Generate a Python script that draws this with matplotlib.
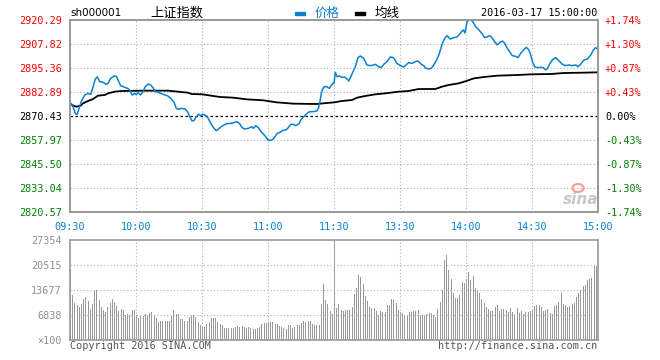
import matplotlib
matplotlib.use('Agg')
import matplotlib.pyplot as plt
import matplotlib.patches as mpatches
import numpy as np

# ---------------- data ----------------
x_ticks = [0, 30, 60, 90, 120, 150, 180, 210, 240]
x_labels = ['09:30', '10:00', '10:30', '11:00', '11:30', '13:30', '14:00', '14:30', '15:00']

y_ticks = [2820.57, 2833.04, 2845.50, 2857.97, 2870.43, 2882.89, 2895.36, 2907.82, 2920.29]
pct_labels = ['-1.74%', '-1.30%', '-0.87%', '-0.43%', '0.00%', '+0.43%', '+0.87%', '+1.30%', '+1.74%']
prev_close = 2870.43

price_t = [0, 1.4, 2.4, 3.2, 3.9, 5.2, 6.7, 8.2, 9.4, 10.5, 11.5, 12.4, 13.5, 15, 16.5, 17.3, 18.5, 20, 21.1, 21.8,
           23, 24.1, 26.1, 27.1, 28.2, 29.1, 30.2, 30.9, 32.1, 33.2, 34.2, 35.5, 36.7, 37.7, 38.8, 40, 41.2, 42.3, 44.5, 46.1,
           47.3, 48.3, 49.4, 50.6, 52.4, 53.6, 54.4, 55.5, 56.4, 57.4, 58.5, 59.4,
           60.3, 61.4, 62.4, 63.6, 64.9, 66.4, 67.4, 68.5, 70, 71.2, 73.5, 75.8, 77, 78, 79.1, 81.1, 82.6, 83.3, 84.5, 85.6,
           87.1, 88.6, 89.9, 90.9, 92.1, 93.2, 94.2, 95.5, 97, 98.2, 99.2, 100.3, 101.5, 102.7, 104.2, 104.9, 105.8, 107.3, 108.3, 109.4,
           110.6, 112.1, 112.9, 113.6, 114.4, 115.5, 116.7, 117.9, 118.9, 119.7, 120,
           120.6, 121.4, 122.4, 123.6, 124.9, 125.9, 126.7, 127.4, 128.5, 129.7, 130.9, 132, 133.5, 135, 136.5, 138, 138.8, 140.3, 141.5, 142.6,
           144.1, 145.6, 147.1, 148.6, 150.2, 151.7, 152.7, 153.9, 155.5, 157, 158.2, 159.7, 160.8, 161.8, 163.3, 164.5, 165.3, 166.8, 167.9, 169.1,
           170.3, 171.4, 172.9, 174.4, 175.9, 177.4, 178.2, 178.9, 179.5, 180.2, 180.6, 181.8, 182.9,
           184.4, 185.9, 187.4, 188.5, 189.7, 190.9, 192, 193, 194.2, 195.5, 196.5, 197.6, 198.8, 200, 201.1, 202.6, 203.6, 204.9, 206.4, 207.4,
           208.6, 209.4, 210.2, 211.2, 212.4, 213.9, 215.2, 216.2, 217, 218.2, 219.2, 220.8, 222.3, 223.8, 225.3, 226.8, 228.3, 229.9, 230.9, 232.1,
           233.6, 235.2, 236.7, 237.9, 238.9, 240]
price_v = [2877.53, 2875.28, 2871.82, 2871.30, 2873.55, 2878.22, 2881.34, 2882.20, 2881.68, 2885.67, 2889.65, 2890.69, 2888.26, 2887.92, 2886.88, 2887.40, 2890.00, 2891.21, 2891.03, 2889.13,
           2886.18, 2885.67, 2884.80, 2883.93, 2881.34, 2882.03, 2881.68, 2882.55, 2881.34, 2883.07, 2885.67, 2887.05, 2886.53, 2885.15, 2883.07, 2882.72, 2882.20, 2881.68, 2880.82, 2879.26,
           2877.53, 2874.41, 2873.89, 2874.41, 2874.07, 2872.33, 2870.08, 2867.83, 2868.18, 2870.08, 2871.30, 2870.60,
           2871.30, 2870.95, 2870.08, 2867.49, 2864.89, 2862.81, 2863.50, 2864.72, 2865.76, 2866.45, 2866.62, 2867.49, 2866.62, 2864.89, 2863.68, 2864.02, 2864.89, 2864.02, 2865.41, 2864.37,
           2861.95, 2860.22, 2858.14, 2857.79, 2858.14, 2859.70, 2861.43, 2861.95, 2863.16, 2863.16, 2864.37, 2866.10, 2866.10, 2865.41, 2866.62, 2868.35, 2869.56, 2871.30, 2872.33, 2872.68,
           2872.68, 2873.03, 2874.41, 2877.87, 2883.07, 2885.67, 2885.67, 2884.80, 2886.53, 2887.57, 2887.40,
           2893.11, 2890.86, 2891.21, 2890.51, 2890.69, 2889.65, 2888.61, 2890.34, 2893.11, 2896.05, 2900.73, 2901.59, 2900.38, 2896.92, 2896.57, 2896.92, 2897.26, 2896.05, 2895.53, 2897.26,
           2898.65, 2901.07, 2900.73, 2897.78, 2896.57, 2895.88, 2896.92, 2898.13, 2897.78, 2898.65, 2899.00, 2897.26, 2896.57, 2895.19, 2894.84, 2895.53, 2896.92, 2899.86, 2902.98, 2907.65,
           2910.77, 2912.15, 2910.42, 2911.11, 2911.46, 2913.36, 2914.58, 2915.10, 2913.50, 2917.50, 2919.77, 2920.29, 2919.77,
           2916.83, 2915.10, 2913.02, 2911.11, 2911.63, 2912.15, 2910.77, 2909.04, 2907.30, 2908.69, 2909.38, 2908.17, 2905.57, 2903.50, 2901.76, 2901.42, 2900.73, 2902.98, 2905.06, 2906.09,
           2904.71, 2902.11, 2898.65, 2896.05, 2895.53, 2895.71, 2895.53, 2894.32, 2895.19, 2897.78, 2899.51, 2900.73, 2899.00, 2897.26, 2896.57, 2896.92, 2896.57, 2896.92, 2896.05, 2897.26,
           2899.51, 2900.03, 2902.11, 2904.71, 2905.92, 2905.06]

avg_t = [0, 1.4, 2.9, 4.9, 5.9, 8.2, 10.5, 12.7, 15.8, 17.3, 20.3, 23.3, 33.9, 44.5, 49.1, 53.6, 55.2, 60.2, 62.1, 68.2,
         74.2, 80.3, 87.9, 93.9, 101.5, 112.1, 116.7, 120.2, 123.6, 128.2, 130.5, 134.2, 138.8, 143.3, 149.4, 153.9, 158.5, 166.1, 169.1, 172.1,
         176.7, 180.2, 181.4, 183.6, 188.2, 194.2, 203.3, 209.4, 218.5, 224.5, 233.6, 240]
avg_v = [2877.01, 2875.80, 2875.28, 2875.80, 2877.01, 2878.22, 2879.26, 2880.99, 2881.34, 2882.20, 2883.07, 2883.41, 2883.59, 2883.59, 2883.07, 2882.55, 2881.86, 2881.68, 2881.34, 2880.30,
         2879.95, 2879.09, 2878.57, 2877.53, 2876.84, 2876.66, 2877.18, 2877.53, 2878.22, 2878.74, 2879.95, 2880.82, 2881.68, 2882.20, 2883.07, 2883.41, 2884.45, 2884.45, 2885.67, 2886.53,
         2887.40, 2888.61, 2889.13, 2889.99, 2890.69, 2891.38, 2891.72, 2892.07, 2892.24, 2892.76, 2892.94, 2893.11]

volume = [19490, 12353, 10248, 9608, 9150, 9882, 11163, 11712, 10706, 8510, 9974, 13725, 13542, 10980, 8967, 8235, 7595, 8967, 10065, 11255,
          10523, 9242, 7961, 8510, 8235, 6863, 7137, 6863, 8235, 8235, 6863, 5948, 6588, 6588, 7137, 6954, 7320, 7778, 6863, 5948,
          5033, 5124, 5124, 5124, 5216, 5307, 6588, 8235, 7137, 7137, 5673, 5673, 5307, 5307, 6222, 6588, 6863, 6222, 5033, 4118,
          3843, 3660, 4392, 5033, 5948, 6131, 6039, 5033, 4301, 4118, 3386, 3386, 3386, 3386, 3386, 3477, 3843, 3477, 3843, 3477,
          3386, 3477, 3203, 3020, 3020, 3386, 3660, 4301, 4575, 4575, 4941, 5033, 4941, 4301, 4392, 3843, 3660, 3203, 2928, 4118,
          4118, 3386, 3660, 4026, 4118, 4758, 5216, 5033, 5307, 5307, 4301, 4118, 4118, 4118, 9882, 15372, 10980, 9882, 7961,
          7137, 27354, 8693, 9882, 8235, 7961, 8235, 8235, 8235, 9150, 12627, 14183, 17843, 17202, 15372, 12078, 10797, 8967, 8784, 8784,
          7961, 6954, 7869, 7686, 7778, 9608, 9608, 11255, 10980, 10248, 8235, 7778, 7320, 6588, 6863, 7686, 7778, 7961, 7961, 8144,
          6863, 6863, 6863, 7137, 7503, 7320, 6863, 6222, 8418, 10523, 13725, 21777, 23333, 19215, 16653, 12993, 11529, 11529, 12353, 15830,
          15555, 16653, 18666, 16470, 17568, 14183, 13725, 12810, 11163, 10248, 9150, 8601, 8052, 7961, 8967, 9608, 8052, 8418, 8418, 8235,
          7686, 8693, 7686, 7137, 8693, 7503, 8052, 7137, 7778, 7778, 7961, 8235, 9333, 9608, 9608, 8967, 7961, 8235, 8418, 7320,
          7046, 9333, 9608, 10523, 12993, 9882, 9608, 8967, 9333, 9882, 10248, 11895, 12810, 13725, 14823, 15098, 16470, 16653, 16928, 20130,
          20313, 23333]
vol_ticks = [0, 6838, 13677, 20515, 27354]
vol_labels = ['×100', '6838', '13677', '20515', '27354']

# ---------------- style ----------------
W, H = 660, 360
RED, GREEN, BLUE = '#ff0000', '#008000', '#0a80d0'
GRID = '#b0b0b0'
SPINE = '#999999'
MONO = 'DejaVu Sans Mono'
FS = 7.3

fig = plt.figure(figsize=(6.6, 3.6), dpi=100)
fig.patch.set_facecolor('white')

def fx(x):
    return x / W

def fy(y):
    return 1 - y / H

ax = fig.add_axes([fx(70), fy(212), (598 - 70) / W, (212 - 20) / H])
axv = fig.add_axes([fx(70), fy(340), (598 - 70) / W, (340 - 240) / H])

# ---------- price panel ----------
ax.set_xlim(0, 240)
ax.set_ylim(y_ticks[0], y_ticks[-1])
for yv in y_ticks[1:-1]:
    if abs(yv - prev_close) < 1e-6:
        continue
    ax.axhline(yv, color=GRID, ls=(0, (1, 2)), lw=0.8, zorder=1)
for xv in x_ticks[1:-1]:
    ax.axvline(xv, color=GRID, ls=(0, (1, 2)), lw=0.8, zorder=1)
ax.axhline(prev_close, color='black', ls=(0, (2, 2)), lw=0.9, zorder=2)

ax.plot(avg_t, avg_v, color='black', lw=1.3, zorder=3)
ax.plot(price_t, price_v, color=BLUE, lw=1.1, zorder=4)

ax.set_xticks(x_ticks)
ax.set_xticklabels(x_labels, family=MONO, fontsize=FS, color=BLUE)
ax.set_yticks(y_ticks)
ax.set_yticklabels(['%.2f' % v for v in y_ticks], family=MONO, fontsize=FS)
def col_for(i):
    return GREEN if i < 4 else ('black' if i == 4 else RED)
for i, lbl in enumerate(ax.get_yticklabels()):
    lbl.set_color(col_for(i))
ax.tick_params(axis='both', length=0)
ax.tick_params(axis='y', pad=6)
ax.tick_params(axis='x', pad=7)

ax2 = ax.twinx()
ax2.set_ylim(ax.get_ylim())
ax2.set_yticks(y_ticks)
ax2.set_yticklabels(pct_labels, family=MONO, fontsize=FS)
for i, lbl in enumerate(ax2.get_yticklabels()):
    lbl.set_color(col_for(i))
ax2.tick_params(axis='y', length=0, pad=5)

for a in (ax, ax2, axv):
    for s in a.spines.values():
        s.set_color(SPINE)
        s.set_linewidth(1.2)

# ---------- volume panel ----------
vol_x = np.arange(len(volume)) * 240.0 / (len(volume) - 1)
axv.set_xlim(0, 240)
axv.set_ylim(0, vol_ticks[-1])
axv.vlines(vol_x, 0, volume, color='#999999', lw=0.5, zorder=2, antialiased=False)
for yv in vol_ticks[1:-1]:
    axv.axhline(yv, color=GRID, ls=(0, (1, 2)), lw=0.8, zorder=3)
for xv in x_ticks[1:-1]:
    axv.axvline(xv, color=GRID, ls=(0, (1, 2)), lw=0.8, zorder=3)
axv.set_xticks([])
axv.set_yticks(vol_ticks)
axv.set_yticklabels(vol_labels, family=MONO, fontsize=FS, color='#909090')
axv.tick_params(axis='y', length=0, pad=6)

# ---------- header / footer texts ----------
fig.text(fx(70), fy(13), 'sh000001', family='DejaVu Sans', fontsize=7.5, color='black', ha='left', va='center')
fig.text(fx(150), fy(13), '上证指数', family=['Noto Sans CJK SC', 'DejaVu Sans'], fontsize=9.5, color='black', ha='left', va='center')
fig.add_artist(mpatches.Rectangle((fx(295), fy(14.5)), 10 / W, 3 / H, transform=fig.transFigure, color=BLUE))
fig.text(fx(315), fy(13), '价格', family=['Noto Sans CJK SC', 'DejaVu Sans'], fontsize=9, color=BLUE, ha='left', va='center')
fig.add_artist(mpatches.Rectangle((fx(355), fy(14.5)), 10 / W, 3 / H, transform=fig.transFigure, color='black'))
fig.text(fx(375), fy(13), '均线', family=['Noto Sans CJK SC', 'DejaVu Sans'], fontsize=9, color='black', ha='left', va='center')
fig.text(fx(597), fy(13), '2016-03-17 15:00:00', family=MONO, fontsize=FS, color='black', ha='right', va='center')

fig.text(fx(70), fy(346), 'Copyright 2016 SINA.COM', family=MONO, fontsize=FS, color='#555555', ha='left', va='center')
fig.text(fx(597), fy(346), 'http://finance.sina.com.cn', family=MONO, fontsize=FS, color='#555555', ha='right', va='center')

# sina watermark
fig.add_artist(mpatches.Ellipse((fx(578), fy(188)), 11 / W, 8 / H, transform=fig.transFigure,
                                fill=False, ec='#f2a0a0', lw=1.6))
fig.text(fx(581), fy(199), 'sina', family='DejaVu Sans', fontsize=11, fontweight='bold', style='italic',
         color='#c8c8c8', ha='center', va='center')

fig.savefig('out.png', dpi=100)
